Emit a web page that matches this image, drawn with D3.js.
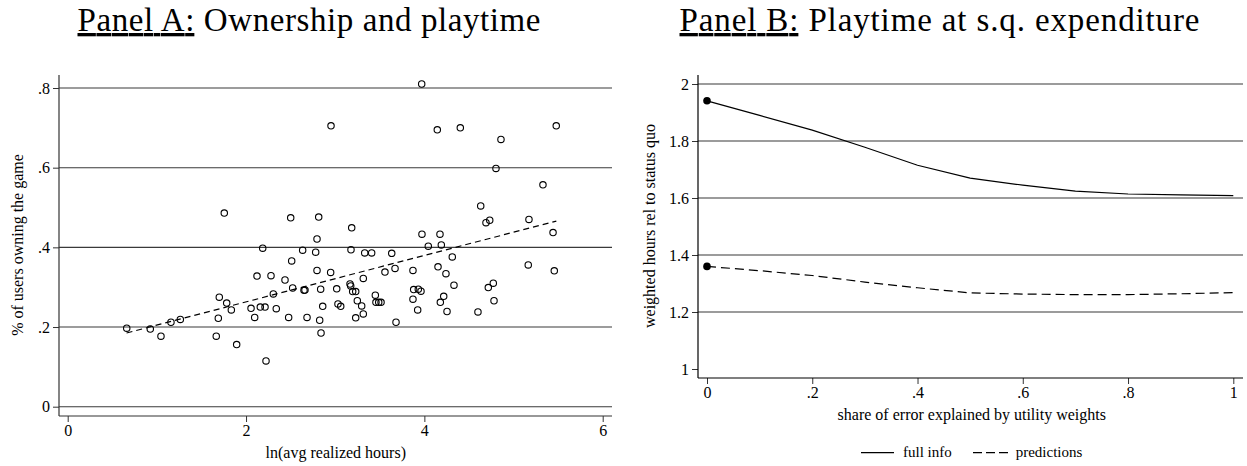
<!DOCTYPE html>
<html>
<head>
<meta charset="utf-8">
<title>Ownership and playtime</title>
<script src="https://d3js.org/d3.v7.min.js"></script>
<style>
    body { margin: 0; background: #fff; }
    svg { display: block; }
    text { font-family: "Liberation Serif", "Times New Roman", serif; fill: #000; }
</style>
</head>
<body>
<script>
// ---- Panel A data: ln(avg realized hours) vs share of users owning the game
var ownX = [3.970, 2.953, 4.145, 4.403, 5.479, 4.859, 4.803, 5.330, 4.632, 4.691,
            4.733, 5.173, 5.443, 2.815, 3.185, 2.796, 3.973, 4.175, 4.044, 4.190,
            2.635, 2.781, 3.177, 3.331, 3.409, 3.634, 4.313, 5.165, 5.457, 2.796,
            2.949, 3.315, 3.558, 3.671, 3.872, 4.153, 4.242, 1.756, 2.501, 2.187,
            2.512, 2.123, 2.280, 2.437, 0.662, 0.926, 1.046, 1.158, 1.263, 1.666,
            1.689, 1.700, 1.783, 1.835, 1.895, 2.056, 2.097, 2.160, 2.213, 2.224,
            2.306, 2.339, 2.478, 2.523, 2.650, 2.661, 2.684, 2.837, 2.826, 2.841,
            2.860, 3.017, 3.031, 3.062, 3.166, 3.174, 3.196, 3.230, 3.248, 3.297,
            3.315, 3.230, 3.450, 3.457, 3.488, 3.514, 3.682, 3.880, 3.932, 3.962,
            3.872, 3.925, 4.332, 4.217, 4.179, 4.254, 4.601, 4.717, 4.773, 4.781];
var ownY = [0.810, 0.705, 0.695, 0.700, 0.705, 0.671, 0.598, 0.557, 0.504, 0.462,
            0.468, 0.470, 0.437, 0.476, 0.449, 0.421, 0.433, 0.433, 0.403, 0.406,
            0.393, 0.388, 0.394, 0.386, 0.386, 0.385, 0.376, 0.356, 0.341, 0.342,
            0.337, 0.322, 0.338, 0.347, 0.342, 0.351, 0.334, 0.486, 0.474, 0.398,
            0.366, 0.328, 0.329, 0.318, 0.197, 0.195, 0.177, 0.212, 0.219, 0.177,
            0.222, 0.275, 0.260, 0.243, 0.156, 0.247, 0.224, 0.250, 0.250, 0.115,
            0.283, 0.246, 0.224, 0.298, 0.292, 0.293, 0.224, 0.295, 0.217, 0.185,
            0.252, 0.296, 0.258, 0.252, 0.308, 0.303, 0.289, 0.289, 0.266, 0.253,
            0.233, 0.223, 0.280, 0.262, 0.262, 0.262, 0.212, 0.294, 0.295, 0.290,
            0.270, 0.243, 0.305, 0.277, 0.262, 0.239, 0.238, 0.299, 0.310, 0.266];
var fitX = [0.66, 5.48];
var fitY = [0.185, 0.466];
var aTicksX = [0, 2, 4, 6];
var aTicksY = [0, 0.2, 0.4, 0.6, 0.8];

// ---- Panel B data: weighted hours relative to status quo
var share = [0, 0.1, 0.2, 0.3, 0.4, 0.5, 0.6, 0.7, 0.8, 0.9, 1];
var fullInfo = [1.941, 1.890, 1.838, 1.778, 1.715, 1.670, 1.645, 1.624, 1.614, 1.611, 1.608];
var predictions = [1.360, 1.345, 1.328, 1.305, 1.285, 1.267, 1.263, 1.261, 1.261, 1.264, 1.268];
var bTicksX = [0, 0.2, 0.4, 0.6, 0.8, 1];
var bTicksY = [1, 1.2, 1.4, 1.6, 1.8, 2];

var w = 1247, h = 466;
var svg = d3.select("body").append("svg").attr("width", w).attr("height", h);
var serif = '"Liberation Serif", "Times New Roman", serif';

// stata style numbers: .2 instead of 0.2
function stataFmt(v) {
    return d3.format("~g")(v).replace(/^0\./, ".");
}

// panel titles with underlined "Panel X:"
function title(cx, len, head, rest) {
    var t = svg.append("text")
        .attr("x", cx).attr("y", 31)
        .attr("text-anchor", "middle")
        .attr("textLength", len)
        .attr("lengthAdjust", "spacing")
        .style("font-family", serif)
        .style("font-size", "33px");
    t.append("tspan").style("font-family", serif).style("text-decoration", "underline").text(head);
    t.append("tspan").style("font-family", serif).text(" " + rest);
}
title(309, 463, "Panel A:", "Ownership and playtime");
title(939.5, 520, "Panel B:", "Playtime at s.q. expenditure");

// ================= Panel A =================
var xA = d3.scaleLinear().domain([0, 6]).range([67.7, 602.7]);
var yA = d3.scaleLinear().domain([0, 0.8]).range([406.7, 88]);
var gA = svg.append("g");

gA.selectAll("line.grid")
    .data(aTicksY)
    .enter().append("line")
    .attr("class", "grid")
    .attr("x1", 59).attr("x2", 612)
    .attr("y1", function(d) { return yA(d); })
    .attr("y2", function(d) { return yA(d); })
    .attr("stroke", "#3a3a3a").attr("stroke-width", 1.1);

var axAy = gA.append("g").attr("transform", "translate(59,0)")
    .call(d3.axisLeft(yA).tickValues(aTicksY).tickFormat(stataFmt).tickSize(6).tickPadding(3));
var axAx = gA.append("g").attr("transform", "translate(0,416)")
    .call(d3.axisBottom(xA).tickValues(aTicksX).tickFormat(stataFmt).tickSize(6).tickPadding(3));
[axAy, axAx].forEach(function(ax) {
    ax.select(".domain").remove();
    ax.selectAll("line").attr("stroke", "#333");
    ax.selectAll("text").style("font-size", "16px").style("font-family", serif);
});
gA.append("line").attr("x1", 59).attr("x2", 59).attr("y1", 75).attr("y2", 416)
    .attr("stroke", "#333").attr("stroke-width", 1.2);
gA.append("line").attr("x1", 59).attr("x2", 612).attr("y1", 416).attr("y2", 416)
    .attr("stroke", "#333").attr("stroke-width", 1.2);

gA.selectAll("circle")
    .data(d3.range(ownX.length))
    .enter().append("circle")
    .attr("cx", function(i) { return xA(ownX[i]); })
    .attr("cy", function(i) { return yA(ownY[i]); })
    .attr("r", 3.2)
    .attr("fill", "none").attr("stroke", "#000").attr("stroke-width", 1.1);

gA.append("path")
    .datum(d3.zip(fitX, fitY))
    .attr("d", d3.line().x(function(d) { return xA(d[0]); }).y(function(d) { return yA(d[1]); }))
    .attr("fill", "none").attr("stroke", "#000").attr("stroke-width", 1.2)
    .attr("stroke-dasharray", "6,4");

gA.append("text").attr("x", 335.8).attr("y", 458).attr("text-anchor", "middle")
    .style("font-size", "16px").text("ln(avg realized hours)");
gA.append("text").attr("transform", "translate(23,245) rotate(-90)").attr("text-anchor", "middle")
    .style("font-size", "16px").text("% of users owning the game");

// ================= Panel B =================
var xB = d3.scaleLinear().domain([0, 1]).range([707, 1233.3]);
var yB = d3.scaleLinear().domain([1, 2]).range([369, 84]);
var gB = svg.append("g");

gB.selectAll("line.grid")
    .data(bTicksY.slice(1))
    .enter().append("line")
    .attr("class", "grid")
    .attr("x1", 698).attr("x2", 1243)
    .attr("y1", function(d) { return yB(d); })
    .attr("y2", function(d) { return yB(d); })
    .attr("stroke", "#7a7a7a").attr("stroke-width", 1.6);

var axBy = gB.append("g").attr("transform", "translate(698,0)")
    .call(d3.axisLeft(yB).tickValues(bTicksY).tickFormat(stataFmt).tickSize(6).tickPadding(3));
var axBx = gB.append("g").attr("transform", "translate(0,378)")
    .call(d3.axisBottom(xB).tickValues(bTicksX).tickFormat(stataFmt).tickSize(6).tickPadding(3));
[axBy, axBx].forEach(function(ax) {
    ax.select(".domain").remove();
    ax.selectAll("line").attr("stroke", "#333");
    ax.selectAll("text").style("font-size", "16px").style("font-family", serif);
});
gB.append("line").attr("x1", 698).attr("x2", 698).attr("y1", 75).attr("y2", 378)
    .attr("stroke", "#000").attr("stroke-width", 1.2);
gB.append("line").attr("x1", 698).attr("x2", 1243).attr("y1", 378).attr("y2", 378)
    .attr("stroke", "#000").attr("stroke-width", 1.2);

var lineB = d3.line()
    .x(function(d) { return xB(d[0]); })
    .y(function(d) { return yB(d[1]); });

gB.append("path").datum(d3.zip(share, fullInfo)).attr("d", lineB)
    .attr("fill", "none").attr("stroke", "#000").attr("stroke-width", 1.2);
gB.append("path").datum(d3.zip(share, predictions)).attr("d", lineB)
    .attr("fill", "none").attr("stroke", "#000").attr("stroke-width", 1.2)
    .attr("stroke-dasharray", "9,5");

gB.selectAll("circle")
    .data([[share[0], fullInfo[0]], [share[0], predictions[0]]])
    .enter().append("circle")
    .attr("cx", function(d) { return xB(d[0]); })
    .attr("cy", function(d) { return yB(d[1]); })
    .attr("r", 3.8).attr("fill", "#000");

gB.append("text").attr("x", 971.8).attr("y", 420).attr("text-anchor", "middle")
    .style("font-size", "16px").text("share of error explained by utility weights");
gB.append("text").attr("transform", "translate(655,226) rotate(-90)").attr("text-anchor", "middle")
    .style("font-size", "16px").text("weighted hours rel to status quo");

// legend
var legend = gB.append("g").attr("transform", "translate(0,452.7)");
legend.append("line").attr("x1", 861).attr("x2", 894).attr("stroke", "#000").attr("stroke-width", 1.2);
legend.append("text").attr("x", 903).attr("y", 4.5).style("font-size", "15px").text("full info");
legend.append("line").attr("x1", 973).attr("x2", 1008).attr("stroke", "#000").attr("stroke-width", 1.2)
    .attr("stroke-dasharray", "9,4");
legend.append("text").attr("x", 1015.7).attr("y", 4.5).style("font-size", "15px").text("predictions");
</script>
</body>
</html>
